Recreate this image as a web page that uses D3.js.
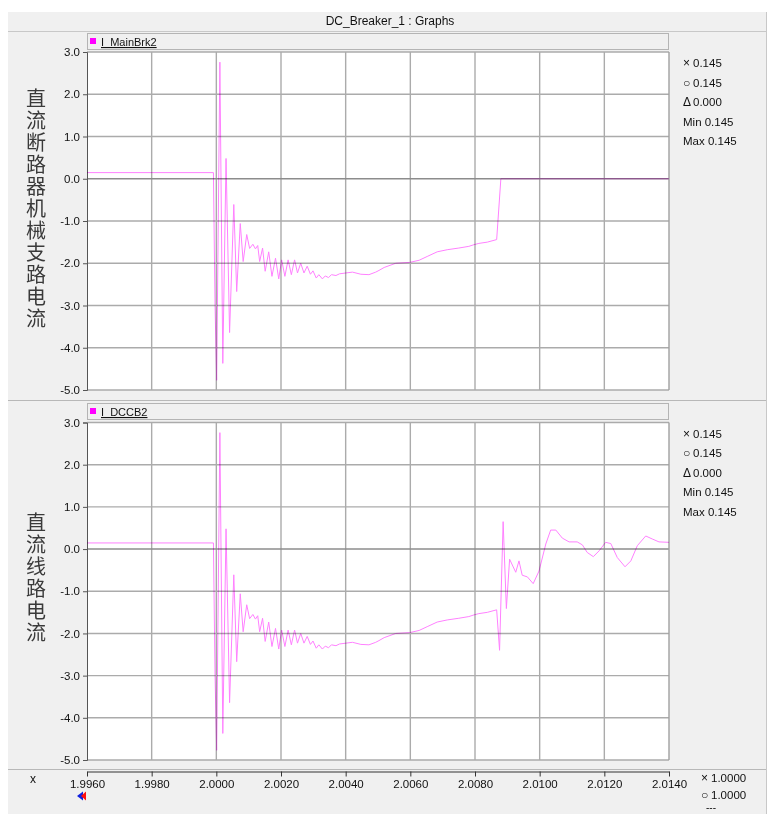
<!DOCTYPE html>
<html lang="en">
<head>
<meta charset="UTF-8">
<title>DC_Breaker_1 : Graphs</title>
<script src="https://d3js.org/d3.v7.min.js"></script>
<style>
  body { margin: 0; background: #fff; }
  svg text { font-family: "Liberation Sans", Arial, sans-serif; fill: #111; }
  .cjk { font-family: "Noto Sans CJK SC", sans-serif !important; fill: #3a3a3a !important; }
</style>
</head>
<body>
<svg id="chart" width="768" height="814"></svg>
<script>
// time axis (seconds) and current axis (kA)
const xTicks = [1.996, 1.998, 2.000, 2.002, 2.004, 2.006, 2.008, 2.010, 2.012, 2.014];
const xTickLabels = ["1.9960", "1.9980", "2.0000", "2.0020", "2.0040", "2.0060", "2.0080", "2.0100", "2.0120", "2.0140"];
const yTicks = [3, 2, 1, 0, -1, -2, -3, -4, -5];
const yTickLabels = ["3.0", "2.0", "1.0", "0.0", "-1.0", "-2.0", "-3.0", "-4.0", "-5.0"];

// common part of both traces (fault transient, before the mechanical branch opens)
const faultTime = [1.996, 1.99991, 1.99996, 2.00001, 2.00011, 2.00020, 2.00030, 2.00041, 2.00054, 2.00063,
  2.00074, 2.00083, 2.00094, 2.00103, 2.00113, 2.00121, 2.00128, 2.00134, 2.00143, 2.00151,
  2.00162, 2.00172, 2.00183, 2.00193, 2.00202, 2.00212, 2.00222, 2.00232, 2.00242, 2.00251,
  2.00261, 2.00271, 2.00281, 2.00291, 2.00299, 2.00309, 2.00317, 2.00328, 2.00337, 2.00347,
  2.00356, 2.00370, 2.00381, 2.00401, 2.00421, 2.00447, 2.00472, 2.00493, 2.00503, 2.00519,
  2.00555, 2.00598, 2.00627, 2.00652, 2.00683, 2.00714, 2.00750, 2.00781, 2.00797, 2.00812,
  2.00838, 2.00867];
const faultCurrent = [0.145, 0.145, -3.0, -4.77, 2.76, -4.37, 0.48, -3.64, -0.61, -2.67,
  -1.06, -1.96, -1.32, -1.65, -1.55, -1.66, -1.58, -1.96, -1.64, -2.19,
  -1.73, -2.31, -1.88, -2.37, -1.92, -2.31, -1.92, -2.27, -1.92, -2.23,
  -2.00, -2.23, -2.07, -2.26, -2.18, -2.35, -2.27, -2.37, -2.30, -2.34,
  -2.27, -2.29, -2.25, -2.23, -2.21, -2.26, -2.27, -2.21, -2.17, -2.10,
  -2.00, -1.98, -1.93, -1.84, -1.73, -1.68, -1.64, -1.60, -1.56, -1.53,
  -1.50, -1.44];

// I_MainBrk2 after opening
const mainTailTime = [2.00880, 2.014];
const mainTailCurrent = [0.0, 0.0];

// I_DCCB2 after opening
const dccbTailTime = [2.00876, 2.00887, 2.00897, 2.00907, 2.00926, 2.00936, 2.00946, 2.00962, 2.00980, 2.00998,
  2.01019, 2.01034, 2.01050, 2.01070, 2.01091, 2.01116, 2.01132, 2.01147, 2.01166, 2.01184,
  2.01204, 2.01220, 2.01240, 2.01264, 2.01282, 2.01302, 2.01328, 2.01348, 2.01369, 2.01400];
const dccbTailCurrent = [-2.40, 0.65, -1.41, -0.24, -0.55, -0.28, -0.62, -0.66, -0.82, -0.52,
  0.12, 0.45, 0.45, 0.26, 0.17, 0.17, 0.10, -0.08, -0.18, -0.04,
  0.16, 0.13, -0.20, -0.42, -0.28, 0.08, 0.31, 0.24, 0.17, 0.16];

const readoutLabels = ["\u00d7", "\u25cb", "\u0394", "Min", "Max"];
const readoutValues = ["0.145", "0.145", "0.000", "0.145", "0.145"];

function toPoints(ts, vs) { return ts.map((t, i) => [t, vs[i]]); }

const panels = [
  { name: "I_MainBrk2", label: "直流断路器机械支路电流", headerY: 33, top: 52, bottom: 390, labelY: 88,
    data: toPoints(faultTime, faultCurrent).concat(toPoints(mainTailTime, mainTailCurrent)) },
  { name: "I_DCCB2", label: "直流线路电流", headerY: 403, top: 422.5, bottom: 760, labelY: 512,
    data: toPoints(faultTime, faultCurrent).concat(toPoints(dccbTailTime, dccbTailCurrent)) }
];

const svg = d3.select("#chart");
const left = 87, right = 669;
const x = d3.scaleLinear().domain([1.996, 2.014]).range([left, right]);

// window background
svg.append("rect").attr("x", 8).attr("y", 12).attr("width", 758).attr("height", 802).attr("fill", "#f0f0f0");
svg.append("line").attr("x1", 766.5).attr("x2", 766.5).attr("y1", 12).attr("y2", 814).attr("stroke", "#c8c8c8");
svg.append("text").attr("x", 390).attr("y", 25).attr("text-anchor", "middle")
  .style("font-size", "12px").text("DC_Breaker_1 : Graphs");
svg.append("line").attr("x1", 8).attr("x2", 766).attr("y1", 31.5).attr("y2", 31.5).attr("stroke", "#c8c8c8");

panels.forEach(p => {
  const y = d3.scaleLinear().domain([-5, 3]).range([p.bottom, p.top]);
  const g = svg.append("g");

  // header with legend
  g.append("rect").attr("x", left + 0.5).attr("y", p.headerY + 0.5).attr("width", right - left - 1).attr("height", 16)
    .attr("fill", "#f0f0f0").attr("stroke", "#b4b4b4");
  g.append("rect").attr("x", 90).attr("y", p.headerY + 5).attr("width", 6).attr("height", 6).attr("fill", "#ff00ff");
  g.append("text").attr("x", 101).attr("y", p.headerY + 13).style("font-size", "11px")
    .style("text-decoration", "underline").text(p.name);

  // plot area
  g.append("rect").attr("x", left).attr("y", p.top).attr("width", right - left).attr("height", p.bottom - p.top).attr("fill", "#fff");

  // grid
  g.selectAll(".vg").data(xTicks.slice(1, -1)).join("line")
    .attr("x1", d => x(d)).attr("x2", d => x(d)).attr("y1", p.top).attr("y2", p.bottom)
    .attr("stroke", "#ababab").attr("stroke-width", 1.4);
  g.selectAll(".hg").data(yTicks).join("line")
    .attr("x1", left).attr("x2", right).attr("y1", d => y(d)).attr("y2", d => y(d))
    .attr("stroke", d => d === 0 ? "#8c8c8c" : "#ababab").attr("stroke-width", 1.4);
  g.append("line").attr("x1", right).attr("x2", right).attr("y1", p.top).attr("y2", p.bottom)
    .attr("stroke", "#a0a0a0").attr("stroke-width", 1.4);

  // y axis
  const ax = g.append("g").attr("transform", `translate(${left},0)`)
    .call(d3.axisLeft(y).tickValues(yTicks).tickFormat((d, i) => yTickLabels[i]).tickSize(4).tickPadding(3));
  ax.select(".domain").attr("stroke", "#555");
  ax.selectAll(".tick line").attr("stroke", "#555");
  ax.selectAll("text").style("font-size", "11.5px").attr("fill", "#111");

  // trace
  const line = d3.line().x(d => x(d[0])).y(d => y(d[1]));
  g.append("path").datum(p.data).attr("d", line).attr("fill", "none")
    .attr("stroke", "#ff80ff").attr("stroke-width", 1).style("mix-blend-mode", "multiply");

  // vertical axis title, one text run written top to bottom
  g.append("text").attr("class", "cjk")
    .attr("x", 36).attr("y", p.labelY)
    .style("writing-mode", "vertical-rl").style("letter-spacing", "2px")
    .style("font-size", "20px").text(p.label);

  // readouts
  readoutLabels.forEach((lab, i) => {
    const ry = p.top + 15 + i * 19.5;
    if (i < 3) {
      g.append("text").attr("x", 683).attr("y", ry).style("font-size", "12px").text(lab);
      g.append("text").attr("x", 693).attr("y", ry).style("font-size", "11.5px").text(readoutValues[i]);
    } else {
      g.append("text").attr("x", 683).attr("y", ry).style("font-size", "11.5px").text(lab + " " + readoutValues[i]);
    }
  });
});

// panel separators
svg.append("line").attr("x1", 8).attr("x2", 766).attr("y1", 400.5).attr("y2", 400.5).attr("stroke", "#b8b8b8");
svg.append("line").attr("x1", 8).attr("x2", 766).attr("y1", 769.5).attr("y2", 769.5).attr("stroke", "#b8b8b8");

// x axis
const xa = svg.append("g").attr("transform", "translate(0,771.5)")
  .call(d3.axisBottom(x).tickValues(xTicks).tickFormat((d, i) => xTickLabels[i]).tickSize(5).tickSizeOuter(0).tickPadding(3));
xa.select(".domain").attr("stroke", "#333");
xa.selectAll(".tick line").attr("stroke", "#333");
xa.selectAll("text").style("font-size", "11.5px").attr("fill", "#111");

svg.append("text").attr("x", 33).attr("y", 783).attr("text-anchor", "middle").style("font-size", "12px").text("x");

// cursor markers
svg.append("path").attr("d", "M77,796 L83,791.5 L83,800.5 Z").attr("fill", "#1020e0");
svg.append("path").attr("d", "M81,796 L86,791.5 L86,800.5 Z").attr("fill", "#ff1010");

// x readouts
svg.append("text").attr("x", 701).attr("y", 782).style("font-size", "12px").text("\u00d7");
svg.append("text").attr("x", 711).attr("y", 782).style("font-size", "11.5px").text("1.0000");
svg.append("text").attr("x", 701).attr("y", 799).style("font-size", "12px").text("\u25cb");
svg.append("text").attr("x", 711).attr("y", 799).style("font-size", "11.5px").text("1.0000");
svg.append("text").attr("x", 706).attr("y", 811).style("font-size", "10px").text("---");
</script>
</body>
</html>
